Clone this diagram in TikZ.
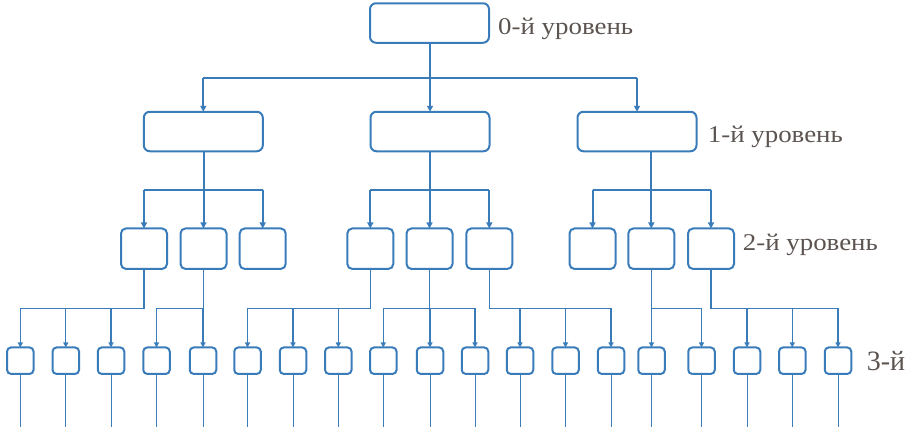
\documentclass[tikz,border=0pt]{standalone}
\usepackage{fontspec}
\setmainfont{Liberation Serif}
\usetikzlibrary{arrows.meta}
\definecolor{lineblue}{RGB}{58,124,186}
\definecolor{labelgray}{RGB}{92,84,80}
\tikzset{
  box/.style={draw=lineblue, line width=2pt, rounded corners=6pt, minimum width=#1, inner sep=0pt, outer sep=0pt},
  bigbox/.style={box=119pt, minimum height=39.5pt},
  midbox/.style={box=46pt, minimum height=40.5pt, rounded corners=5pt},
  smallbox/.style={box=26.5pt, minimum height=26.5pt, rounded corners=4pt},
  conn/.style={draw=lineblue, line width=2pt},
  conn3/.style={draw=lineblue, line width=1.3pt},
  tail/.style={draw=lineblue, line width=1pt},
  arr/.style={conn, -{Triangle[length=6pt,width=6pt]}},
  arr3/.style={conn3, -{Triangle[length=5pt,width=5pt]}},
  lvl/.style={text=labelgray, inner sep=0pt, anchor=base west, font=\fontsize{24}{24}\selectfont},
}
\begin{document}
\begin{tikzpicture}[x=1pt,y=-1pt]
\useasboundingbox (0,0) rectangle (914,434);
% level 0
\node[bigbox] (L0) at (429.5,23) {};
% level 1
\node[bigbox] (L1a) at (203.3,131.5) {};
\node[bigbox] (L1b) at (430,131.5) {};
\node[bigbox] (L1c) at (637,131.5) {};
% level 2
\foreach \n/\x in {a/144,b/203.5,c/262.7,d/370.3,e/429.5,f/489.3,g/592.5,h/651.3,i/711}
  \node[midbox] (L2\n) at (\x,248.7) {};
% level 3
\foreach \n/\x in {1/20.3,2/65.8,3/111,4/156.5,5/203,6/247.5,7/293,8/338.3,9/383.3,10/430,11/475,12/520,13/565.5,14/611,15/651.5,16/701.5,17/747,18/792.3,19/838}
  {\node[smallbox] (c\n) at (\x,360.7) {};
   \coordinate (e\n) at (\x,426.5);
   \draw[tail] (c\n.south) -- (e\n);}
% buses
\coordinate (bus1) at (0,77.5);
\coordinate (bus2) at (0,190);
\coordinate (bus3) at (0,308.3);
% level 0 -> 1
\draw[conn] (L0.south) -- (L0 |- bus1);
\draw[conn] (L1a |- bus1) -- (L1c |- bus1);
\foreach \t in {L1a,L1b,L1c} \draw[arr] (\t |- bus1) -- (\t.north);
% level 1 -> 2
\draw[conn] (L2b |- L1a.south) -- (L2b |- bus2);
\draw[conn] (L2a |- bus2) -- (L2c |- bus2);
\draw[conn] (L2e |- L1b.south) -- (L2e |- bus2);
\draw[conn] (L2d |- bus2) -- (L2f |- bus2);
\draw[conn] (L2h |- L1c.south) -- (L2h |- bus2);
\draw[conn] (L2g |- bus2) -- (L2i |- bus2);
\foreach \t in {L2a,L2b,L2c,L2d,L2e,L2f,L2g,L2h,L2i} \draw[arr] (\t |- bus2) -- (\t.north);
% level 2 -> 3
\draw[conn3] (L2a.south) -- (L2a |- bus3) -- (c1 |- bus3);
\draw[conn3] (L2b.south) -- (L2b |- bus3) -- (c4 |- bus3);
\draw[conn3] (L2d.south) -- (L2d |- bus3) -- (c6 |- bus3);
\draw[conn3] (L2e.south) -- (L2e |- bus3);
\draw[conn3] (c9 |- bus3) -- (c11 |- bus3);
\draw[conn3] (L2f.south) -- (L2f |- bus3) -- (c14 |- bus3);
\draw[conn3] (L2h.south) -- (L2h |- bus3) -- (c16 |- bus3);
\draw[conn3] (L2i.south) -- (L2i |- bus3) -- (c19 |- bus3);
\foreach \k in {1,...,19} \draw[arr3] (c\k |- bus3) -- (c\k.north);
% labels
\node[lvl] (t0) at (498,34) {\scalebox{1.12}[1]{0-й уровень}};
\node[lvl] (t1) at (707.7,142.7) {\scalebox{1.12}[1]{1-й уровень}};
\node[lvl] (t2) at (742.7,250) {\scalebox{1.12}[1]{2-й уровень}};
\node[lvl, font=\fontsize{28}{28}\selectfont] (t3) at (866.7,370) {3-й};
\end{tikzpicture}
\end{document}
